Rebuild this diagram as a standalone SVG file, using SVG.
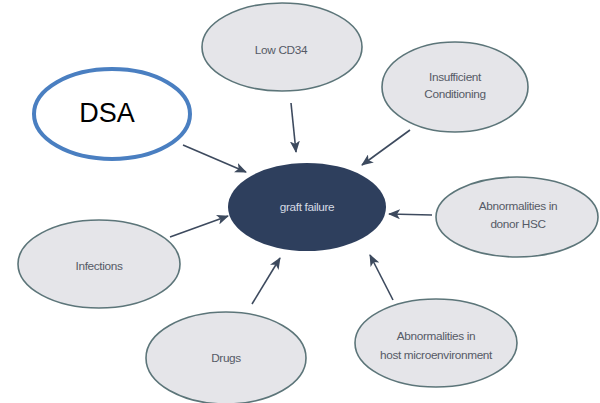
<svg xmlns="http://www.w3.org/2000/svg" width="600" height="403" viewBox="0 0 600 403">
<style>
.n{fill:#e5e5e9;stroke:#5c7579;stroke-width:1.6}
.t{font-family:"Liberation Sans",Arial,sans-serif;font-size:11.8px;fill:#555a66;text-anchor:middle;letter-spacing:-0.35px}
.c{stroke:#3d4a5e;stroke-width:1.6;fill:none;marker-end:url(#ah)}
</style>
<defs>
<marker id="ah" viewBox="0 0 12 10" refX="11" refY="5" markerWidth="12" markerHeight="10" markerUnits="userSpaceOnUse" orient="auto">
<path d="M0,0 L12,5 L0,10 L3,5 Z" fill="#3d4a5e"/>
</marker>
</defs>
<rect width="600" height="403" fill="#ffffff"/>
<g id="connectors">
<line class="c" x1="183" y1="145" x2="246" y2="172"/>
<line class="c" x1="291" y1="103" x2="296" y2="152"/>
<line class="c" x1="410" y1="130" x2="362" y2="165"/>
<line class="c" x1="432" y1="215" x2="389" y2="214"/>
<line class="c" x1="170" y1="237" x2="228" y2="216"/>
<line class="c" x1="252" y1="304" x2="280" y2="258"/>
<line class="c" x1="393" y1="300" x2="370" y2="255"/>
</g>
<g id="dsa">
<ellipse cx="112" cy="114" rx="78" ry="45" fill="#ffffff" stroke="#4a7fc1" stroke-width="4"/>
<text x="107" y="122" font-family="'Liberation Sans',Arial,sans-serif" font-size="27" fill="#000" text-anchor="middle">DSA</text>
</g>
<g id="low-cd34">
<ellipse class="n" cx="282" cy="47" rx="80" ry="44"/>
<text class="t" x="281" y="54">Low CD34</text>
</g>
<g id="insufficient-conditioning">
<ellipse class="n" cx="455" cy="87" rx="73" ry="45"/>
<text class="t" x="455" y="81">Insufficient</text>
<text class="t" x="455" y="98">Conditioning</text>
</g>
<g id="graft-failure">
<ellipse cx="307" cy="207" rx="79" ry="44" fill="#2e3f5d"/>
<text class="t" x="307" y="211" style="fill:#d6dbe4">graft failure</text>
</g>
<g id="donor-hsc">
<ellipse class="n" cx="517" cy="217" rx="81" ry="40"/>
<text class="t" x="518" y="210">Abnormalities in</text>
<text class="t" x="518" y="228">donor HSC</text>
</g>
<g id="infections">
<ellipse class="n" cx="99" cy="264" rx="81" ry="44"/>
<text class="t" x="99" y="270">Infections</text>
</g>
<g id="drugs">
<ellipse class="n" cx="226" cy="358" rx="80" ry="46"/>
<text class="t" x="226" y="362">Drugs</text>
</g>
<g id="host-microenvironment">
<ellipse class="n" cx="436" cy="343" rx="81" ry="44"/>
<text class="t" x="436" y="340">Abnormalities in</text>
<text class="t" x="436" y="359">host microenvironment</text>
</g>
</svg>
